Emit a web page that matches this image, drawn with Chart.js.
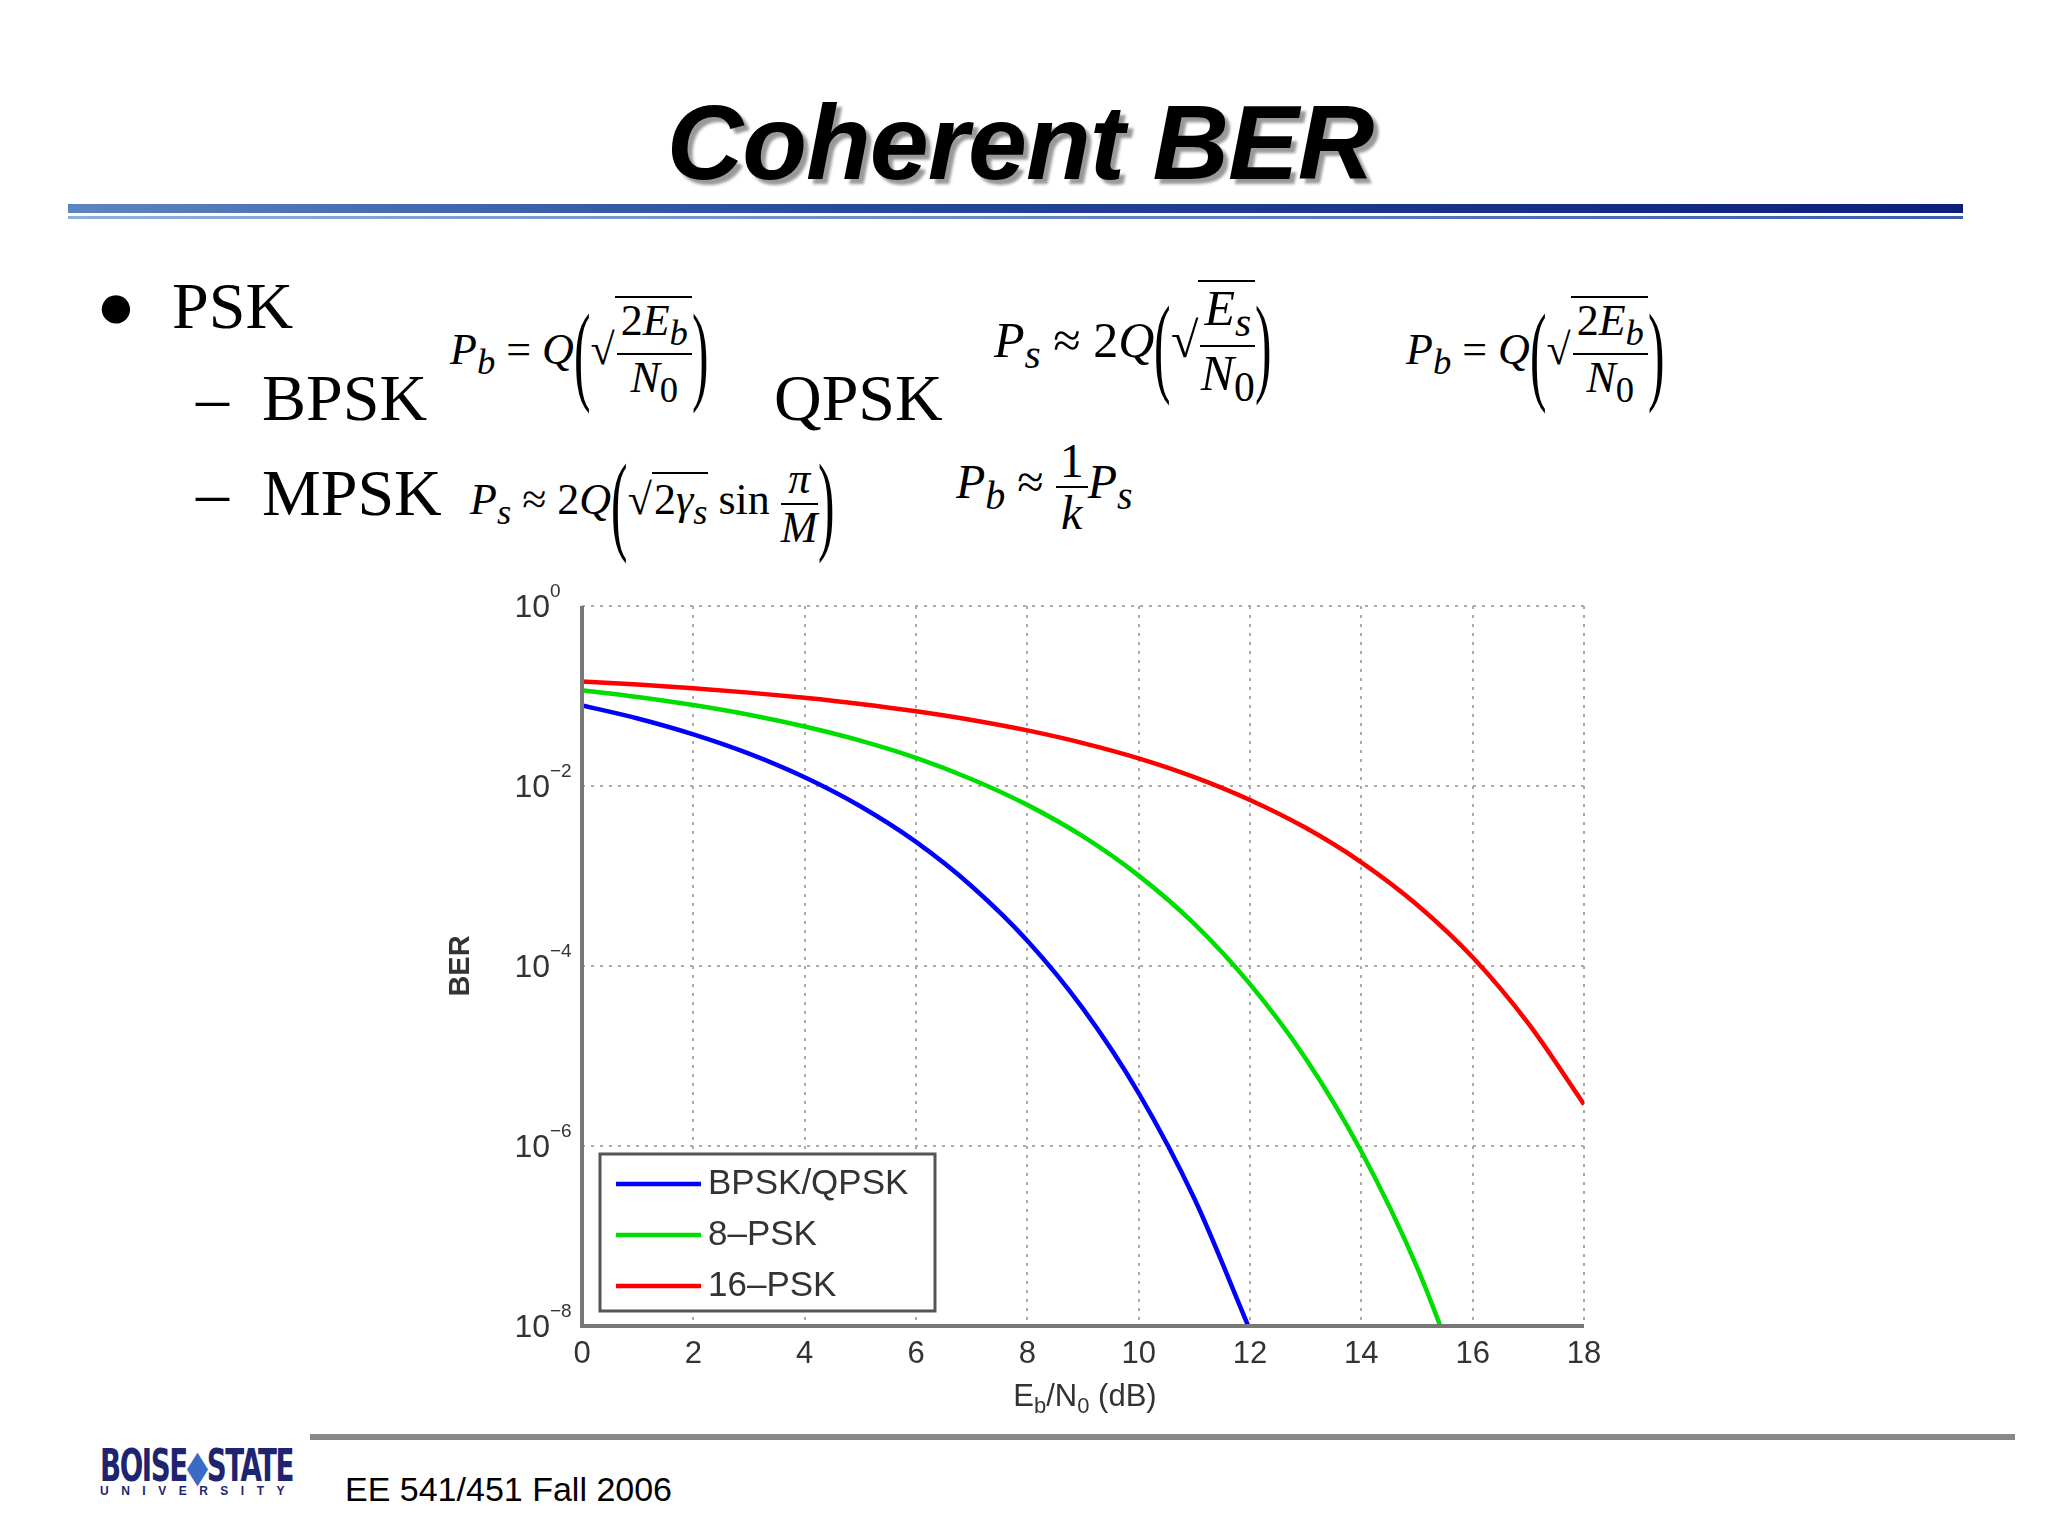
<!DOCTYPE html>
<html><head><meta charset="utf-8">
<script src="https://cdn.jsdelivr.net/npm/chart.js@4"></script>
<style>
body{margin:0;width:2048px;height:1536px;background:#fff;position:relative;overflow:hidden;font-family:"Liberation Serif",serif;}
.abs{position:absolute;white-space:nowrap;}
#title{left:0;width:2040px;top:82px;text-align:center;font:italic bold 106px "Liberation Sans",Arial,sans-serif;color:#000;text-shadow:5px 5px 3px #999;letter-spacing:-1px;}
.m{font-family:"Liberation Serif",serif;font-size:44px;}
.i{font-style:italic;}
.frac{display:inline-block;vertical-align:middle;text-align:center;line-height:1.05;}
.frac span{display:block;}
.frac .n{border-bottom:2px solid #000;padding:0 4px;}
.sq{border-top:2px solid #000;display:inline-block;padding-left:2px;}
.big{font-size:110px;font-weight:100;vertical-align:middle;transform:scaleX(0.45);display:inline-block;margin:0 -10px;}
</style></head><body>
<div id="title" class="abs">Coherent BER</div>
<div class="abs" style="left:68px;top:204px;width:1895px;height:9px;background:linear-gradient(90deg,#5b86c0,#274a9c 40%,#0c1f7c);"></div>
<div class="abs" style="left:68px;top:216px;width:1895px;height:3px;background:linear-gradient(90deg,#8fb0dc,#3a5db0);"></div>
<div class="abs" style="left:96px;top:268px;font-size:66px;">●</div>
<div class="abs" style="left:172px;top:268px;font-size:66px;">PSK</div>
<div class="abs" style="left:196px;top:360px;font-size:66px;">–&nbsp; BPSK</div>
<div class="abs" style="left:196px;top:455px;font-size:66px;">–&nbsp; MPSK</div>
<div class="abs" style="left:774px;top:360px;font-size:66px;">QPSK</div>
<div class="abs m" style="left:450px;top:290px;"><span class="i">P<sub>b</sub></span> = <span class="i">Q</span><span class="big">(</span>√<span class="sq"><span class="frac"><span class="n">2<i>E<sub>b</sub></i></span><span><i>N</i><sub>0</sub></span></span></span><span class="big">)</span></div>
<div class="abs m" style="left:994px;top:280px;font-size:50px;"><span class="i">P<sub>s</sub></span> ≈ 2<span class="i">Q</span><span class="big">(</span>√<span class="sq"><span class="frac"><span class="n"><i>E<sub>s</sub></i></span><span><i>N</i><sub>0</sub></span></span></span><span class="big">)</span></div>
<div class="abs m" style="left:1406px;top:290px;"><span class="i">P<sub>b</sub></span> = <span class="i">Q</span><span class="big">(</span>√<span class="sq"><span class="frac"><span class="n">2<i>E<sub>b</sub></i></span><span><i>N</i><sub>0</sub></span></span></span><span class="big">)</span></div>
<div class="abs m" style="left:470px;top:440px;"><span class="i">P<sub>s</sub></span> ≈ 2<span class="i">Q</span><span class="big">(</span>√<span class="sq">2<i>γ<sub>s</sub></i></span> sin <span class="frac"><span class="n"><i>π</i></span><span><i>M</i></span></span><span class="big">)</span></div>
<div class="abs m" style="left:956px;top:436px;font-size:48px;"><span class="i">P<sub>b</sub></span> ≈ <span class="frac"><span class="n">1</span><span><i>k</i></span></span><span class="i">P<sub>s</sub></span></div>

<div class="abs" style="left:440px;top:570px;width:1200px;height:860px;"><canvas id="c" width="1200" height="860"></canvas></div>

<div class="abs" style="left:310px;top:1434px;width:1705px;height:6px;background:#888;"></div>
<div class="abs" style="left:100px;top:1440px;font:bold 44px 'Liberation Sans Narrow','DejaVu Sans Condensed',sans-serif;color:#1d2470;transform:scaleX(0.7);transform-origin:left;letter-spacing:-2px;">BOISE<span style="color:#3a6bc4">◆</span>STATE</div>
<div class="abs" style="left:100px;top:1484px;font:bold 12px 'Liberation Sans',sans-serif;color:#1d2470;letter-spacing:12.5px;">UNIVERSITY</div>
<div class="abs" style="left:345px;top:1470px;font:34px 'Liberation Sans',Arial,sans-serif;">EE 541/451 Fall 2006</div>

<script>
const ebno = [0,1,2,3,4,5,6,7,8,9,10,11,12,13,14,15,16,17,18];
const bpsk = [0.0786,0.0563,0.0375,0.0229,0.0125,0.00595,0.00239,7.7e-4,1.91e-4,3.36e-5,3.87e-6,2.61e-7,9.0e-9];
const psk8 = [0.116,0.0976,0.0793,0.0619,0.0458,0.0319,0.0205,0.0119,0.00617,0.00275,0.00101,2.94e-4,6.3e-5,9.4e-6,8.7e-7,4.5e-8,1.1e-9];
const psk16 = [0.145,0.134,0.122,0.109,0.0954,0.0816,0.0677,0.0542,0.0415,0.0300,0.0203,0.01256,0.0070,0.00343,0.00142,4.8e-4,1.25e-4,2.3e-5,2.9e-6];
const seriesNames = ['BPSK/QPSK','8\u2013PSK','16\u2013PSK'];
const seriesColors = ['#0000ff','#00dd00','#ff0000'];
const yTickExp = {1:'0',0.01:'\u22122',1e-4:'\u22124',1e-6:'\u22126',1e-8:'\u22128'};

const mk = (arr,i)=>({label:seriesNames[i],data:arr.map((v,k)=>({x:ebno[k],y:v})),borderColor:seriesColors[i],borderWidth:4.5,pointRadius:0,cubicInterpolationMode:'monotone',fill:false});

const legendPlugin={id:'lg',afterDraw(ch){
  const c=ch.ctx; const x0=600-440, y0=1154-570;
  c.save(); c.fillStyle='#fff'; c.fillRect(x0,y0,335,157);
  c.strokeStyle='#555'; c.lineWidth=3; c.strokeRect(x0,y0,335,157);
  c.font='35px "Liberation Sans",Arial,sans-serif'; c.textBaseline='middle';
  ch.data.datasets.forEach((d,i)=>{const y=y0+30+i*51;
    c.strokeStyle=d.borderColor;c.lineWidth=4.5;c.beginPath();c.moveTo(x0+16,y);c.lineTo(x0+101,y);c.stroke();
    c.fillStyle='#333';c.fillText(d.label,x0+108,y);});
  c.restore();}};

const axisPlugin={id:'ax',afterDatasetsDraw(ch){const a=ch.chartArea,c=ch.ctx;c.save();c.strokeStyle='#777';c.lineWidth=4;
  c.beginPath();c.moveTo(a.left,a.top);c.lineTo(a.left,a.bottom);c.lineTo(a.right,a.bottom);c.stroke();
  const ys=ch.scales.y; c.fillStyle='#333'; c.textBaseline='middle';
  Object.keys(yTickExp).forEach(k=>{const v=+k,py=ys.getPixelForValue(v);
    c.font='32px "Liberation Sans",Arial';c.textAlign='right';c.fillText('10',a.left-32,py+2);
    c.font='19px "Liberation Sans",Arial';c.textAlign='left';c.fillText(yTickExp[k],a.left-32,py-14);});
  const cx=(a.left+a.right)/2+2, cy=a.bottom+71; c.textAlign='left';
  const parts=[['E',31,0],['b',22,10],['/N',31,0],['0',22,10],[' (dB)',31,0]];
  let w=0; parts.forEach(p=>{c.font=p[1]+'px "Liberation Sans",Arial';w+=c.measureText(p[0]).width;});
  let x=cx-w/2; parts.forEach(p=>{c.font=p[1]+'px "Liberation Sans",Arial';c.fillText(p[0],x,cy+p[2]);x+=c.measureText(p[0]).width;});
  c.restore();}};

new Chart(document.getElementById('c'),{type:'line',
 data:{datasets:[mk(bpsk,0),mk(psk8,1),mk(psk16,2)]},
 options:{responsive:false,animation:false,devicePixelRatio:1,
  layout:{padding:{top:36,right:56,left:0,bottom:0}},
  plugins:{legend:{display:false},tooltip:{enabled:false}},
  scales:{
   x:{type:'linear',min:0,max:18,
      afterFit(s){s.height=104;},
      grid:{color:'#aaa',lineWidth:2,drawTicks:false},border:{display:false,dash:[3,6]},
      ticks:{stepSize:2,color:'#333',font:{size:31,family:'Liberation Sans'},padding:10}},
   y:{type:'logarithmic',min:1e-8,max:1,
      afterFit(s){s.width=142;},
      afterBuildTicks(s){s.ticks=[1e-8,1e-6,1e-4,1e-2,1].map(v=>({value:v}));},
      grid:{color:'#aaa',lineWidth:2,drawTicks:false},border:{display:false,dash:[3,6]},
      ticks:{display:true,color:'rgba(0,0,0,0)',font:{size:30,family:'Liberation Sans'},padding:12,callback:v=>'10'},
      title:{display:true,text:'BER',color:'#333',font:{size:29,family:'Liberation Sans',weight:'bold'},padding:{bottom:10}}}
  }},
 plugins:[axisPlugin,legendPlugin]
});
</script>
</body></html>
